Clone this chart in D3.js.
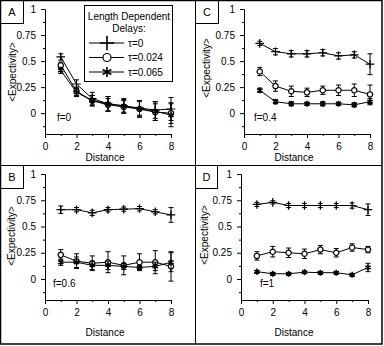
<!DOCTYPE html>
<html lang="en">
<head>
<meta charset="UTF-8">
<script src="https://cdn.jsdelivr.net/npm/d3@7"></script>
<style>
  body { margin: 0; background: #fff; }
  text { font-family: "Liberation Sans", Arial, sans-serif; fill: #000; }
  .axis path, .axis line { stroke: #000; stroke-width: 1; }
</style>
</head>
<body>
<svg width="384" height="346"></svg>
<script>
// ---- data ----
var distance = [1, 2, 3, 4, 5, 6, 7, 8];
var tauLabels = ["\u03c4=0", "\u03c4=0.024", "\u03c4=0.065"];
var yMajorTicks = [0, 0.25, 0.5, 0.75, 1];
var yMinorTicks = [-0.125, 0.125, 0.375, 0.625, 0.875];
var xMajorTicks = [0, 2, 4, 6, 8];
var xMinorTicks = [1, 3, 5, 7];

// f = 0 (panel A)
var meanA = [
  [0.54, 0.28, 0.14, 0.09, 0.07, 0.05, 0.03, 0.04],
  [0.46, 0.21, 0.12, 0.08, 0.06, 0.04, 0.01, 0.00],
  [0.41, 0.20, 0.12, 0.09, 0.07, 0.04, 0.02, -0.02]
];
var errA = [
  [0.03, 0.04, 0.06, 0.07, 0.06, 0.07, 0.08, 0.11],
  [0.03, 0.04, 0.05, 0.06, 0.06, 0.07, 0.08, 0.10],
  [0.03, 0.04, 0.05, 0.07, 0.07, 0.08, 0.09, 0.11]
];
// f = 0.4 (panel C)
var meanC = [
  [0.67, 0.59, 0.57, 0.57, 0.58, 0.55, 0.56, 0.47],
  [0.40, 0.26, 0.21, 0.20, 0.22, 0.22, 0.22, 0.18],
  [0.22, 0.11, 0.09, 0.09, 0.09, 0.09, 0.08, 0.11]
];
var errC = [
  [0.02, 0.03, 0.03, 0.03, 0.03, 0.03, 0.03, 0.10],
  [0.04, 0.05, 0.05, 0.04, 0.04, 0.05, 0.06, 0.09],
  [0.02, 0.02, 0.02, 0.015, 0.02, 0.015, 0.02, 0.03]
];
// f = 0.6 (panel B)
var meanB = [
  [0.66, 0.66, 0.63, 0.66, 0.665, 0.67, 0.64, 0.61],
  [0.23, 0.17, 0.15, 0.16, 0.13, 0.16, 0.16, 0.12],
  [0.16, 0.16, 0.13, 0.13, 0.12, 0.11, 0.12, 0.16]
];
var errB = [
  [0.035, 0.02, 0.025, 0.02, 0.02, 0.02, 0.02, 0.07],
  [0.05, 0.07, 0.07, 0.10, 0.09, 0.08, 0.11, 0.14],
  [0.03, 0.05, 0.04, 0.04, 0.03, 0.02, 0.04, 0.09]
];
// f = 1 (panel D)
var meanD = [
  [0.71, 0.73, 0.70, 0.70, 0.70, 0.70, 0.70, 0.66],
  [0.22, 0.26, 0.25, 0.24, 0.28, 0.25, 0.30, 0.28],
  [0.07, 0.05, 0.05, 0.065, 0.06, 0.06, 0.04, 0.11]
];
var errD = [
  [0.02, 0.015, 0.02, 0.02, 0.02, 0.02, 0.025, 0.055],
  [0.04, 0.05, 0.045, 0.045, 0.04, 0.04, 0.035, 0.03],
  [0.01, 0.01, 0.01, 0.01, 0.01, 0.01, 0.01, 0.04]
];

var svg = d3.select("svg");

// panel layout (pixels)
var panels = [
  {label: "A", f: "f=0",   mean: meanA, err: errA, x0: 45,  x1: 171, yTop: 9,   yBot: 134, box: [0, 0, 23, 23],
   fPos: [57, 121], yLab: [13, 72], xLab: [105, 161], legend: true},
  {label: "C", f: "f=0.4", mean: meanC, err: errC, x0: 244, x1: 370, yTop: 9,   yBot: 134, box: [195, 0, 23, 23],
   fPos: [254, 121], yLab: [207, 68], xLab: [294, 161]},
  {label: "B", f: "f=0.6", mean: meanB, err: errB, x0: 45,  x1: 171, yTop: 174, yBot: 300, box: [0, 165, 23, 23],
   fPos: [53, 287], yLab: [12, 236], xLab: [105, 336]},
  {label: "D", f: "f=1",   mean: meanD, err: errD, x0: 241, x1: 368, yTop: 174, yBot: 300, box: [195, 165, 22, 23],
   fPos: [260, 287], yLab: [205, 235], xLab: [294, 336]}
];

var symbols = [d3.symbolPlus, d3.symbolCircle, d3.symbolAsterisk];

panels.forEach(function(p) {
  var x = d3.scaleLinear().domain([0, 8]).range([p.x0, p.x1]);
  var y = d3.scaleLinear().domain([-0.2, 1]).range([p.yBot, p.yTop]);
  var g = svg.append("g");

  // axes: major + minor ticks
  g.append("g").attr("class", "axis").attr("transform", "translate(0," + p.yBot + ")")
    .call(d3.axisBottom(x).tickValues(xMajorTicks).tickSize(4).tickSizeOuter(0).tickPadding(5).tickFormat(d3.format("d")))
    .call(function(a) { a.selectAll("text").attr("font-size", 10).attr("font-family", null); });
  g.append("g").attr("class", "axis").attr("transform", "translate(0," + p.yBot + ")")
    .call(d3.axisBottom(x).tickValues(xMinorTicks).tickSize(2).tickSizeOuter(0).tickFormat(""));
  g.append("g").attr("class", "axis").attr("transform", "translate(" + p.x0 + ",0)")
    .call(d3.axisLeft(y).tickValues(yMajorTicks).tickSize(4).tickSizeOuter(0).tickPadding(5).tickFormat(function(d) { return String(d); }))
    .call(function(a) { a.selectAll("text").attr("font-size", 10).attr("font-family", null); });
  g.append("g").attr("class", "axis").attr("transform", "translate(" + p.x0 + ",0)")
    .call(d3.axisLeft(y).tickValues(yMinorTicks).tickSize(2).tickSizeOuter(0).tickFormat(""));

  // series
  var line = d3.line().x(function(d, i) { return x(distance[i]); }).y(function(d) { return y(d); });
  p.mean.forEach(function(series, s) {
    g.append("path").datum(series).attr("d", line)
      .attr("fill", "none").attr("stroke", "#000").attr("stroke-width", 1);

    series.forEach(function(v, i) {
      var e = p.err[s][i], cx = x(distance[i]);
      g.append("line").attr("x1", cx).attr("x2", cx).attr("y1", y(v - e)).attr("y2", y(v + e))
        .attr("stroke", "#000").attr("stroke-width", 1);
      [v - e, v + e].forEach(function(w) {
        g.append("line").attr("x1", cx - 2.5).attr("x2", cx + 2.5).attr("y1", y(w)).attr("y2", y(w))
          .attr("stroke", "#000").attr("stroke-width", 1);
      });
    });

    g.selectAll(null).data(series).enter().append("path")
      .attr("transform", function(d, i) { return "translate(" + x(distance[i]) + "," + y(d) + ")"; })
      .attr("d", d3.symbol().type(symbols[s]).size(s === 1 ? 22 : 26))
      .attr("fill", s === 1 ? "#fff" : "none")
      .attr("stroke", "#000")
      .attr("stroke-width", s === 2 ? 1.6 : 1.2);
  });

  // labels
  g.append("text").attr("x", p.fPos[0]).attr("y", p.fPos[1]).attr("font-size", 10).text(p.f);
  g.append("text").attr("x", p.xLab[0]).attr("y", p.xLab[1]).attr("font-size", 10)
    .attr("text-anchor", "middle").text("Distance");
  g.append("text").attr("transform", "translate(" + (p.yLab[0] + 3) + "," + p.yLab[1] + ") rotate(-90)")
    .attr("font-size", 10).attr("text-anchor", "middle").text("<Expectivity>");

  // panel letter box
  g.append("rect").attr("x", p.box[0] + 0.5).attr("y", p.box[1] + 0.5).attr("width", p.box[2]).attr("height", p.box[3])
    .attr("fill", "#fff").attr("stroke", "#000").attr("stroke-width", 1);
  g.append("text").attr("x", p.box[0] + p.box[2] / 2 + 0.5).attr("y", p.box[1] + 16)
    .attr("font-size", 11).attr("text-anchor", "middle").text(p.label);

  if (p.legend) {
    var lg = svg.append("g");
    lg.append("rect").attr("x", 84.5).attr("y", 5.5).attr("width", 88).attr("height", 76)
      .attr("fill", "#fff").attr("stroke", "#000").attr("stroke-width", 1);
    lg.append("text").attr("x", 129).attr("y", 20).attr("font-size", 10).attr("text-anchor", "middle").text("Length Dependent");
    lg.append("text").attr("x", 129).attr("y", 32).attr("font-size", 10).attr("text-anchor", "middle").text("Delays:");
    tauLabels.forEach(function(t, s) {
      var ly = 43 + s * 14.5;
      lg.append("line").attr("x1", 89).attr("x2", 124).attr("y1", ly).attr("y2", ly)
        .attr("stroke", "#000").attr("stroke-width", 1);
      lg.append("path").attr("transform", "translate(107," + ly + ")")
        .attr("d", d3.symbol().type(symbols[s]).size(s === 1 ? 50 : 70))
        .attr("fill", s === 1 ? "#fff" : "none").attr("stroke", "#000").attr("stroke-width", s === 1 ? 1.2 : 1.6);
      lg.append("text").attr("x", 128).attr("y", ly + 3.5).attr("font-size", 10).text(t);
    });
  }
});

// frame and dividers
svg.append("line").attr("x1", 195.5).attr("x2", 195.5).attr("y1", 0).attr("y2", 344).attr("stroke", "#000").attr("stroke-width", 1);
svg.append("line").attr("x1", 0).attr("x2", 382).attr("y1", 165.5).attr("y2", 165.5).attr("stroke", "#000").attr("stroke-width", 1);
svg.append("rect").attr("x", 0.5).attr("y", 0.5).attr("width", 381.5).attr("height", 343.5)
  .attr("fill", "none").attr("stroke", "#000").attr("stroke-width", 1.5);
</script>
</body>
</html>
